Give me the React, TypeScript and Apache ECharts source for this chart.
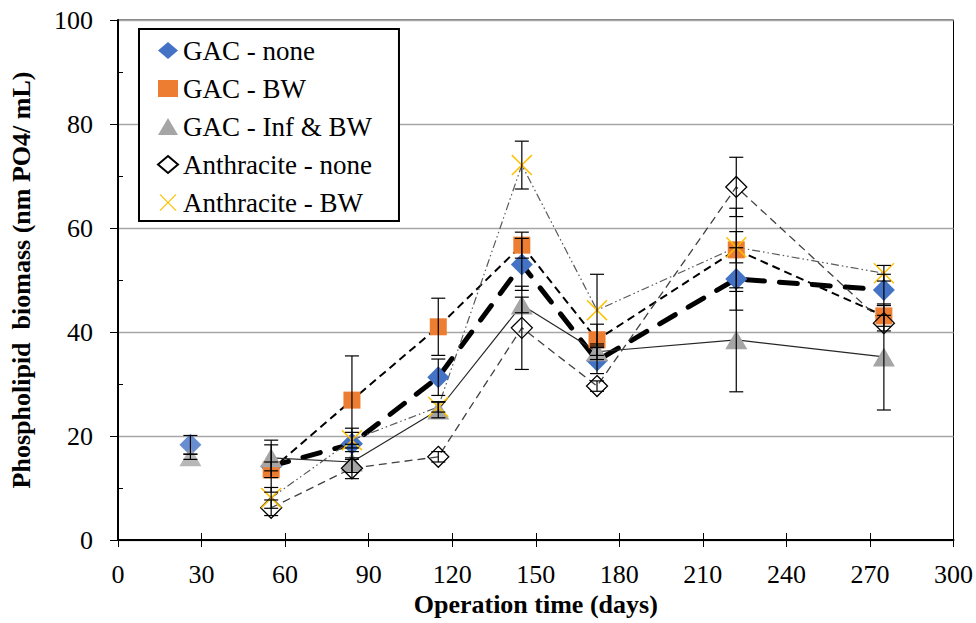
import React, { useEffect, useRef } from "react";
import * as echarts from "echarts";

const days = [26, 55, 84, 115, 145, 172, 222, 275];
const gacNone = [18.3, 14.2, 18.5, 31.3, 53.0, 34.5, 50.2, 48.1];
const gacNoneErr = [1.8, 5.0, 3.0, 3.5, 5.0, 2.5, 6.0, 3.0];
const gacBW = [null, 13.5, 26.9, 41.0, 56.7, 38.5, 55.8, 43.1];
const gacBWErr = [null, 1.5, 8.5, 5.5, 2.5, 3.0, 8.0, 2.0];
const gacInf = [16.0, 15.8, 15.0, 25.0, 45.2, 36.2, 38.5, 35.2];
const gacInfErr = [0.5, 2.5, 2.0, 1.5, 1.5, 1.5, 10.0, 10.2];
const anthNone = [null, 6.2, 13.8, 16.0, 40.8, 29.6, 67.9, 41.7];
const anthNoneErr = [null, 1.5, 2.0, 1.0, 8.0, 1.0, 5.7, 1.5];
const anthBW = [null, 8.1, 19.2, 25.6, 72.1, 44.2, 56.3, 51.3];
const anthBWErr = [null, 2.0, 1.5, 1.0, 4.6, 6.9, 3.0, 1.5];

const xTicks = [0, 30, 60, 90, 120, 150, 180, 210, 240, 270, 300];
const yTicks = [0, 20, 40, 60, 80, 100];

const FONT = "Liberation Serif";
const X_PATH = "path://M0,1L1,0L10,9L19,0L20,1L11,10L20,19L19,20L10,11L1,20L0,19L9,10Z";

type Num = number | null;

function pairs(vals: Num[], from = 0) {
  const out: [number, number][] = [];
  for (let i = from; i < days.length; i++) {
    const v = vals[i];
    if (v != null) out.push([days[i], v]);
  }
  return out;
}

function errData(vals: Num[], errs: Num[]) {
  const out: [number, number, number][] = [];
  for (let i = 0; i < days.length; i++) {
    const v = vals[i];
    const e = errs[i];
    if (v != null && e != null) out.push([days[i], v - e, v + e]);
  }
  return out;
}

function errSeries(vals: Num[], errs: Num[]) {
  return {
    type: "custom",
    silent: true,
    z: 4,
    encode: { x: 0, y: [1, 2] },
    data: errData(vals, errs),
    renderItem: (_p: any, api: any) => {
      const x = api.value(0);
      const top = api.coord([x, api.value(2)]);
      const bot = api.coord([x, api.value(1)]);
      const w = 7;
      const st = { stroke: "#000", lineWidth: 1.2 };
      return {
        type: "group",
        children: [
          { type: "line", shape: { x1: top[0], y1: top[1], x2: bot[0], y2: bot[1] }, style: st },
          { type: "line", shape: { x1: top[0] - w, y1: top[1], x2: top[0] + w, y2: top[1] }, style: st },
          { type: "line", shape: { x1: bot[0] - w, y1: bot[1], x2: bot[0] + w, y2: bot[1] }, style: st },
        ],
      };
    },
  };
}

export default function App() {
  const ref = useRef<HTMLDivElement>(null);
  useEffect(() => {
    if (!ref.current) return;
    const chart = echarts.init(ref.current, null, { renderer: "svg" });
    const axisLabelStyle = { fontFamily: FONT, fontSize: 26, color: "#000" };
    chart.setOption({
      animation: false,
      backgroundColor: "#fff",
      textStyle: { fontFamily: FONT },
      grid: { left: 112, right: 22, top: 20, bottom: 83, show: true, borderColor: "#000", borderWidth: 1 },
      legend: {
        orient: "vertical",
        left: 139,
        top: 29,
        backgroundColor: "#fff",
        borderColor: "#000",
        borderWidth: 2,
        borderRadius: 0,
        padding: [8, 27, 5, 18],
        itemWidth: 20,
        itemHeight: 17,
        itemGap: 11,
        itemTextGap: 2,
        z: 10,
        textStyle: { fontFamily: FONT, fontSize: 27, color: "#000", lineHeight: 26 },
        data: [
          { name: "GAC - none", icon: "diamond" },
          { name: "GAC - BW", icon: "rect" },
          { name: "GAC - Inf & BW", icon: "triangle" },
          { name: "Anthracite - none", icon: "diamond" },
          { name: "Anthracite - BW", icon: X_PATH },
        ],
      },
      xAxis: [
        {
          type: "value",
          min: xTicks[0],
          max: xTicks[xTicks.length - 1],
          interval: 30,
          position: "bottom",
          name: "Operation time (days)",
          nameLocation: "middle",
          nameGap: 47,
          nameTextStyle: { fontFamily: FONT, fontSize: 26, fontWeight: "bold", color: "#000" },
          axisLine: { show: true, lineStyle: { color: "#000", width: 2 } },
          axisTick: { show: true, length: 7, lineStyle: { color: "#000", width: 1 } },
          axisLabel: { ...axisLabelStyle, margin: 21 },
          splitLine: { show: false },
        },
        {
          type: "value",
          min: xTicks[0],
          max: xTicks[xTicks.length - 1],
          interval: 30,
          position: "bottom",
          axisLine: { show: false },
          axisTick: { show: true, inside: true, length: 7, lineStyle: { color: "#000", width: 1 } },
          axisLabel: { show: false },
          splitLine: { show: false },
        },
      ],
      yAxis: [
        {
          type: "value",
          min: yTicks[0],
          max: yTicks[yTicks.length - 1],
          interval: 20,
          name: "Phospholipid  biomass (nm PO4/ mL)",
          nameLocation: "middle",
          nameGap: 84,
          nameTextStyle: { fontFamily: FONT, fontSize: 26, fontWeight: "bold", color: "#000" },
          axisLine: { show: true, lineStyle: { color: "#000", width: 2 } },
          axisTick: { show: true, length: 8, lineStyle: { color: "#000", width: 1 } },
          axisLabel: { ...axisLabelStyle, margin: 25 },
          splitLine: { show: true, lineStyle: { color: "#a6a6a6", width: 1.3 } },
        },
        {
          type: "value",
          min: yTicks[0],
          max: yTicks[yTicks.length - 1],
          interval: 20,
          position: "left",
          axisLine: { show: false },
          axisTick: { show: false, inside: true },
          minorTick: { show: true, splitNumber: 2, length: 5, lineStyle: { color: "#000", width: 1 } },
          axisLabel: { show: false },
          splitLine: { show: false },
        },
      ],
      series: [
        {
          name: "GAC - none",
          type: "line",
          data: pairs(gacNone, 1),
          symbol: "diamond",
          symbolSize: [22, 22],
          itemStyle: { color: "#4472C4" },
          lineStyle: { color: "#000", width: 5, type: [18, 15], cap: "round" },
          z: 3,
        },
        {
          name: "GAC - none",
          type: "scatter",
          data: pairs(gacNone).slice(0, 1),
          symbol: "diamond",
          symbolSize: [22, 22],
          itemStyle: { color: "#4472C4" },
          z: 3,
        },
        {
          name: "GAC - BW",
          type: "line",
          data: pairs(gacBW),
          symbol: "rect",
          symbolSize: 17,
          itemStyle: { color: "#ED7D31" },
          lineStyle: { color: "#000", width: 2, type: [8, 5] },
          z: 3,
        },
        {
          name: "GAC - Inf & BW",
          type: "line",
          data: pairs(gacInf, 1),
          symbol: "triangle",
          symbolSize: [22, 19],
          itemStyle: { color: "#A5A5A5" },
          lineStyle: { color: "#262626", width: 1.2 },
          z: 3,
        },
        {
          name: "GAC - Inf & BW",
          type: "scatter",
          data: pairs(gacInf).slice(0, 1),
          symbol: "triangle",
          symbolSize: [22, 19],
          itemStyle: { color: "#A5A5A5" },
          z: 3,
        },
        {
          name: "Anthracite - none",
          type: "line",
          data: pairs(anthNone),
          symbol: "diamond",
          symbolSize: [21, 21],
          itemStyle: { color: "rgba(255,255,255,0)", borderColor: "#000", borderWidth: 1.3 },
          lineStyle: { color: "#404040", width: 1.3, type: [8, 5] },
          z: 3,
        },
        {
          name: "Anthracite - BW",
          type: "line",
          data: pairs(anthBW),
          symbol: X_PATH,
          symbolSize: 21,
          itemStyle: { color: "#FFC000" },
          lineStyle: { color: "#595959", width: 1.2, type: [8, 3, 1.5, 3, 1.5, 3] },
          z: 3,
        },
        errSeries(gacNone, gacNoneErr),
        errSeries(gacBW, gacBWErr),
        errSeries(gacInf, gacInfErr),
        errSeries(anthNone, anthNoneErr),
        errSeries(anthBW, anthBWErr),
      ],
    });
    return () => chart.dispose();
  }, []);
  return <div ref={ref} style={{ width: 976, height: 623, position: "absolute", left: 0, top: 0 }} />;
}
